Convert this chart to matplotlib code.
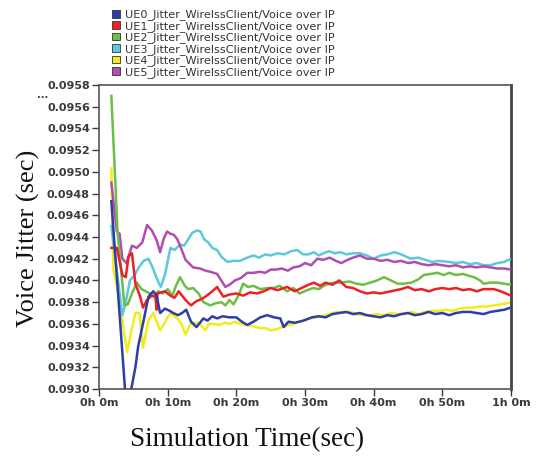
import matplotlib
matplotlib.use("Agg")
import matplotlib.pyplot as plt
from matplotlib.patches import Patch

labels = ["UE0_Jitter_WirelssClient/Voice over IP",
          "UE1_Jitter_WirelssClient/Voice over IP",
          "UE2_Jitter_WirelssClient/Voice over IP",
          "UE3_Jitter_WirelssClient/Voice over IP",
          "UE4_Jitter_WirelssClient/Voice over IP",
          "UE5_Jitter_WirelssClient/Voice over IP"]
colors = ["#2E3EA6", "#EE2024", "#6DBE45", "#5CC8DE", "#F2EC1C", "#B04DAE"]

# time in minutes, jitter in seconds
t0 = [1.8, 3.9, 4.4, 5.3, 5.7, 6.4, 7.2, 7.9, 8.4, 8.9, 9.6, 10.3, 10.8, 11.5, 12.1, 12.7, 13.4, 14.2,
      15.2, 15.8, 16.5, 17.2, 18, 19, 20, 20.8, 21.6, 22.5, 23.5, 24.5, 25.5, 26.4, 26.9, 27.6, 28.5,
      29.8, 31, 32, 33, 34, 35, 36, 37, 38, 39, 40, 41, 42, 43, 44, 45, 46, 47, 48, 49, 50, 51, 52,
      53, 54, 55, 56, 57, 58, 59, 60]
v0 = [0.09473, 0.0929, 0.0929, 0.0932, 0.09339, 0.0936, 0.09385, 0.0939, 0.09386, 0.0937, 0.09374,
      0.09372, 0.0937, 0.09368, 0.0937, 0.09373, 0.09362, 0.09357, 0.09365, 0.09363, 0.09367, 0.09365,
      0.09367, 0.09366, 0.09366, 0.09362, 0.09359, 0.09362, 0.09366, 0.09368, 0.09366, 0.09365, 0.09357,
      0.09362, 0.09361, 0.09363, 0.09366, 0.09367, 0.09366, 0.09369, 0.0937, 0.09371, 0.09369, 0.0937,
      0.09368, 0.09367, 0.09366, 0.09368, 0.09367, 0.09369, 0.0937, 0.09368, 0.09369, 0.09371, 0.09369,
      0.0937, 0.09368, 0.0937, 0.09371, 0.09371, 0.0937, 0.09369, 0.09371, 0.09372, 0.09373, 0.09375]

t1 = [1.8, 2.6, 3.4, 3.9, 4.3, 4.8, 5.3, 6.0, 6.4, 7.0, 7.7, 8.2, 8.4, 8.5, 9.6, 10.4, 11.0, 11.6,
      12.6, 13.4, 14.2, 15.0, 15.7, 16.5, 17.2, 18.1, 19.0, 20.0, 21.0, 22.0, 23.0, 24.0, 25.0, 26.0,
      27.4, 28.5, 29.5, 30.5, 31.3, 32.2, 33.0, 34.0, 35.0, 36.0, 37.0, 38.0, 39.0, 40.0, 41.0, 42.5,
      44.0, 45.0, 46.0, 47.0, 48.0, 49.0, 50.0, 51.0, 52.0, 53.0, 54.0, 55.0, 56.0, 57.5, 58.5, 60.0]
v1 = [0.0943, 0.0943, 0.09405, 0.09403, 0.09422, 0.09425, 0.09397, 0.09385, 0.09375, 0.09382, 0.09386,
      0.09385, 0.09373, 0.09388, 0.0939, 0.09386, 0.09384, 0.0939, 0.09382, 0.09377, 0.09381, 0.09383,
      0.09386, 0.0939, 0.09394, 0.09385, 0.09387, 0.09388, 0.09386, 0.09389, 0.09388, 0.0939, 0.09393,
      0.09391, 0.09394, 0.0939, 0.09393, 0.09396, 0.09398, 0.09395, 0.09398, 0.09396, 0.094, 0.09394,
      0.09393, 0.0939, 0.09388, 0.09389, 0.09388, 0.0939, 0.09392, 0.09394, 0.09391, 0.09392, 0.0939,
      0.09392, 0.09393, 0.09392, 0.09393, 0.09391, 0.09392, 0.0939, 0.09392, 0.09392, 0.0939, 0.09386]

t2 = [1.8, 2.7, 3.7, 4.2, 4.8, 5.5, 6.2, 6.8, 7.4, 8.0, 8.6, 9.3, 10.0, 10.7, 11.2, 11.8, 12.5, 13.0,
      13.7, 14.5, 15.2, 16.2, 17.0, 17.8, 18.4, 19.0, 19.6, 20.3, 21.0, 21.7, 22.5, 23.5, 24.5, 25.4,
      26.3, 27.4, 28.3, 29.2, 30.3, 31.2, 32.0, 33.0, 34.2, 35.2, 36.5, 37.5, 38.5, 39.5, 40.5, 41.5,
      42.5, 43.5, 44.4, 45.5, 46.5, 47.3, 48.3, 49.3, 50.2, 51.0, 52.0, 53.0, 54.0, 54.6, 55.5, 56.0,
      57.0, 58.0, 59.0, 60.0]
v2 = [0.0957, 0.09445, 0.09377, 0.09378, 0.09388, 0.09398, 0.09392, 0.0939, 0.09388, 0.09385, 0.0939,
      0.09388, 0.09392, 0.09386, 0.09395, 0.09403, 0.09395, 0.09392, 0.09393, 0.09388, 0.0938, 0.09377,
      0.09379, 0.0938, 0.09377, 0.09382, 0.09378, 0.09386, 0.09397, 0.09394, 0.09395, 0.09392, 0.09393,
      0.09393, 0.09395, 0.0939, 0.09393, 0.09388, 0.09391, 0.09393, 0.09392, 0.09396, 0.09398, 0.09398,
      0.09399, 0.09397, 0.09396, 0.09398, 0.094, 0.09403, 0.094, 0.09397, 0.09397, 0.09398, 0.09401,
      0.09405, 0.09406, 0.09407, 0.09405, 0.09407, 0.09405, 0.09406, 0.09404, 0.09403, 0.094, 0.09397,
      0.09398, 0.09398, 0.09397, 0.09396]

t3 = [1.8, 3.4, 3.9, 4.5, 5.2, 5.8, 6.5, 7.2, 7.8, 8.4, 9.0, 9.6, 10.4, 11.0, 11.8, 12.4, 13.0, 13.6,
      14.3, 14.8, 15.3, 15.9, 16.5, 17.2, 17.8, 18.7, 19.5, 20.5, 21.6, 22.5, 23.3, 24.2, 25.0, 26.0,
      27.0, 28.0, 28.9, 29.7, 30.5, 31.3, 32.0, 32.7, 33.5, 34.3, 35.2, 36.0, 37.0, 38.0, 39.0, 40.0,
      41.0, 42.0, 43.0, 44.0, 45.4, 46.5, 47.5, 48.5, 49.5, 51.0, 52.0, 53.0, 54.0, 55.0, 56.0, 57.0,
      58.0, 59.0, 60.0]
v3 = [0.0945, 0.09368, 0.0938, 0.094, 0.09405, 0.09412, 0.09418, 0.0942, 0.09412, 0.09402, 0.09394,
      0.09405, 0.0943, 0.09428, 0.09433, 0.09432, 0.09438, 0.09444, 0.09446, 0.09445, 0.09438, 0.09435,
      0.0943, 0.09428, 0.09422, 0.09417, 0.09418, 0.09418, 0.09421, 0.09423, 0.09421, 0.09424, 0.09423,
      0.09425, 0.09424, 0.09427, 0.09428, 0.09424, 0.09424, 0.09426, 0.09423, 0.09425, 0.09427, 0.09425,
      0.09426, 0.09424, 0.09425, 0.09425, 0.09423, 0.0942, 0.09423, 0.09424, 0.09426, 0.09424, 0.0942,
      0.09421, 0.09419, 0.09417, 0.09418, 0.09417, 0.09416, 0.09417, 0.09415, 0.09416, 0.09414, 0.09414,
      0.09416, 0.09417, 0.0942]

t4 = [1.8, 2.1, 2.6, 4.1, 4.6, 5.3, 5.9, 6.4, 7.2, 7.9, 8.4, 8.9, 9.5, 9.9, 10.4, 11.4, 12.0, 12.6,
      13.3, 14.0, 14.7, 15.5, 16.0, 16.7, 17.5, 18.3, 19.0, 19.8, 20.6, 21.4, 22.3, 23.5, 24.3, 25.0,
      25.8, 26.6, 27.4, 28.3, 29.2, 30.0, 30.8, 31.6, 32.5, 33.5, 34.7, 35.5, 36.5, 37.5, 38.5, 39.5,
      40.5, 41.5, 42.5, 43.5, 44.5, 45.5, 46.5, 47.5, 48.5, 49.5, 50.5, 51.5, 52.5, 53.5, 54.5, 55.5,
      56.5, 57.5, 58.5, 59.5, 60.0]
v4 = [0.09503, 0.0941, 0.09395, 0.09334, 0.0935, 0.0937, 0.0937, 0.09338, 0.09363, 0.0937, 0.09362,
      0.09354, 0.0936, 0.09365, 0.0937, 0.09365, 0.0936, 0.0935, 0.0936, 0.09361, 0.0936, 0.09354,
      0.0936, 0.0936, 0.09359, 0.09361, 0.0936, 0.09362, 0.0936, 0.09359, 0.09358, 0.09356, 0.09356,
      0.09354, 0.09355, 0.09357, 0.09359, 0.0936, 0.09362, 0.09364, 0.09365, 0.09366, 0.09367, 0.09369,
      0.09371, 0.0937, 0.09371, 0.09369, 0.09368, 0.09368, 0.09369, 0.09368, 0.0937, 0.09369, 0.09369,
      0.09371, 0.09369, 0.09371, 0.09372, 0.09372, 0.09373, 0.09372, 0.09374, 0.09375, 0.09375, 0.09376,
      0.09376, 0.09377, 0.09378, 0.09379, 0.0938]

t5 = [1.8, 2.6, 3.0, 3.4, 4.0, 4.8, 5.5, 6.3, 7.0, 7.7, 8.4, 8.9, 9.4, 9.9, 10.4, 10.9, 11.4, 11.8,
      12.6, 13.7, 14.7, 15.5, 16.2, 17.2, 17.8, 18.4, 19.0, 19.8, 20.6, 21.6, 22.5, 23.4, 24.2, 25.0,
      25.8, 26.6, 27.5, 28.3, 29.2, 30.0, 30.9, 31.8, 32.7, 33.6, 34.5, 35.3, 36.2, 37.0, 38.0, 39.0,
      40.0, 41.0, 42.0, 43.0, 44.0, 45.0, 46.0, 47.0, 48.0, 49.0, 50.0, 51.0, 52.0, 53.0, 54.0, 55.0,
      56.0, 57.0, 58.0, 59.0, 60.0]
v5 = [0.0949, 0.09445, 0.09443, 0.0942, 0.09416, 0.09432, 0.0943, 0.09435, 0.09451, 0.09446, 0.09437,
      0.09426, 0.09438, 0.09445, 0.09443, 0.09442, 0.09438, 0.09432, 0.09419, 0.09412, 0.09411, 0.09409,
      0.09408, 0.09406, 0.094, 0.09394, 0.09396, 0.094, 0.09402, 0.09407, 0.09407, 0.09408, 0.09407,
      0.0941, 0.0941, 0.09411, 0.09409, 0.09412, 0.09413, 0.09416, 0.09414, 0.0942, 0.09419, 0.09421,
      0.09418, 0.09416, 0.09419, 0.09421, 0.09423, 0.0942, 0.0942, 0.09418, 0.09419, 0.09417, 0.09418,
      0.09416, 0.09417, 0.09415, 0.09414, 0.09415, 0.09414, 0.09413, 0.09414, 0.09412, 0.09413, 0.09412,
      0.09413, 0.09412, 0.09411, 0.09411, 0.0941]

xticks = [0, 10, 20, 30, 40, 50, 60]
xticklabels = ["0h 0m", "0h 10m", "0h 20m", "0h 30m", "0h 40m", "0h 50m", "1h 0m"]
yticks = [0.0930, 0.0932, 0.0934, 0.0936, 0.0938, 0.0940, 0.0942, 0.0944,
          0.0946, 0.0948, 0.0950, 0.0952, 0.0954, 0.0956, 0.0958]

series = [(t0, v0), (t1, v1), (t2, v2), (t3, v3), (t4, v4), (t5, v5)]

fig = plt.figure(figsize=(5.36, 4.57), dpi=100)
ax = fig.add_axes([99/536, 1-389/457, (511-99)/536, (389-85)/457])

order = [4, 3, 5, 2, 1, 0]
for i in order:
    t, v = series[i]
    ax.plot(t, v, color=colors[i], lw=1.8, solid_joinstyle="round", zorder=2 + order.index(i))

ax.set_xlim(0, 60)
ax.set_ylim(0.0930, 0.0958)
ax.set_xticks(xticks)
ax.set_xticklabels(xticklabels)
ax.set_yticks(yticks)
ax.set_yticklabels([f"{y:.4f}" for y in yticks])
ax.tick_params(axis="both", labelsize=8, colors="#3a3a3a", length=5, width=1, direction="out", pad=1.5)
for lab in ax.get_xticklabels() + ax.get_yticklabels():
    lab.set_fontweight("bold")
    lab.set_family("DejaVu Sans")
for s in ax.spines.values():
    s.set_color("#555555")
    s.set_linewidth(1.2)
ax.spines["right"].set_linewidth(2.0)
ax.spines["right"].set_color("#444444")

handles = [Patch(facecolor=c, edgecolor="#333333", linewidth=0.6) for c in colors]
leg = fig.legend(handles, labels, loc="upper left", bbox_to_anchor=(112/536, 1-9.5/457),
                 frameon=False, fontsize=8.1, handlelength=0.7, handleheight=0.7,
                 handletextpad=0.45, labelspacing=0.05, borderpad=0, borderaxespad=0)
for txt in leg.get_texts():
    txt.set_color("#333333")
    txt.set_family("DejaVu Sans")

fig.text(28/536, 1-238/457, "Voice Jitter (sec)", rotation=90, ha="center", va="center",
         fontsize=19, family="Liberation Serif", color="#111111")
fig.text(247/536, 1-440/457, "Simulation Time(sec)", ha="center", va="center",
         fontsize=19.5, family="Liberation Serif", color="#111111")
fig.text(43/536, 1-95/457, "...", ha="center", va="center", fontsize=7, fontweight="bold",
         color="#444444")

fig.savefig("out.png", dpi=100)
